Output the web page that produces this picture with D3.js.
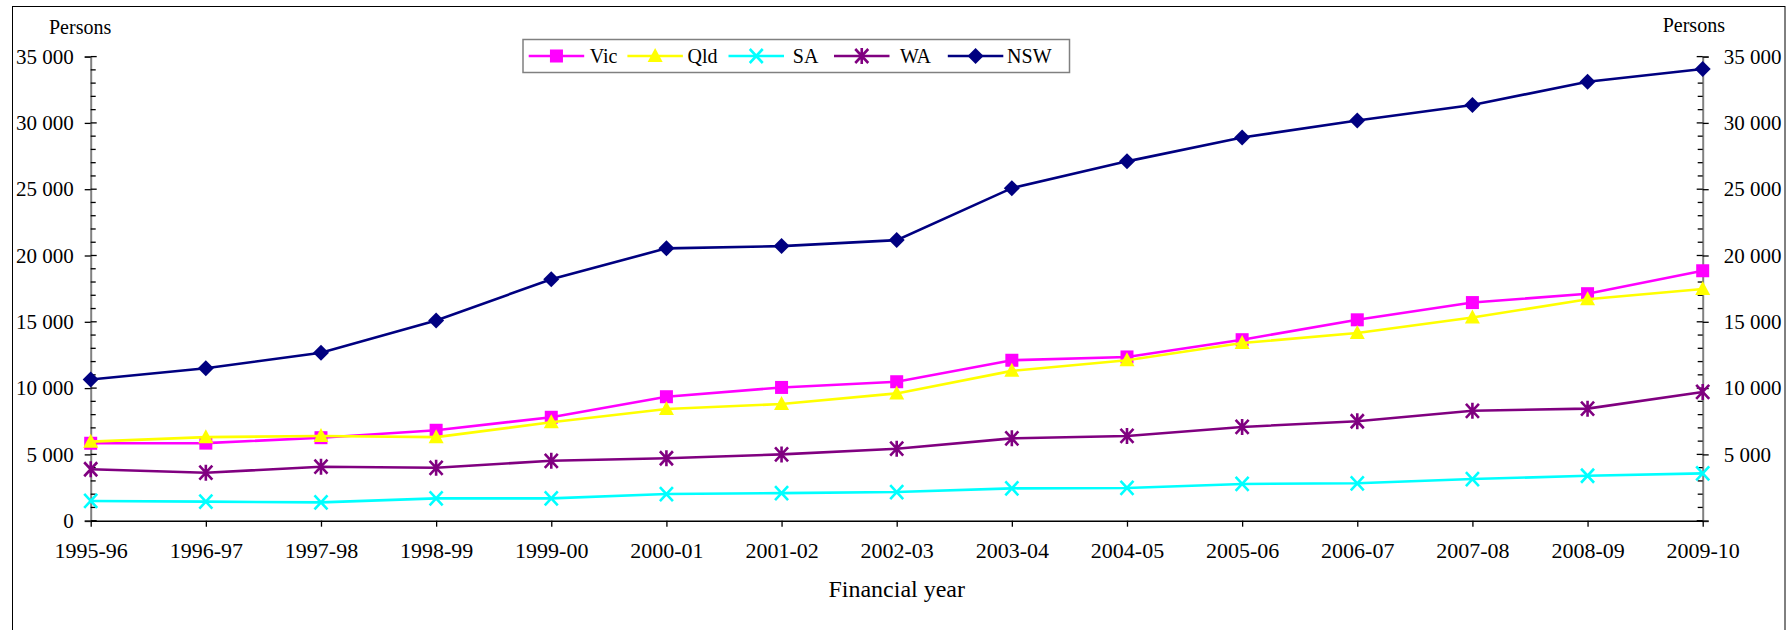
<!DOCTYPE html>
<html><head><meta charset="utf-8">
<script src="https://cdn.jsdelivr.net/npm/d3@7"></script>
<style>body{margin:0;background:#fff;} svg{display:block;}</style>
</head><body>
<svg id="c" width="1789" height="630"></svg>
<script>
const categories = ["1995-96","1996-97","1997-98","1998-99","1999-00","2000-01","2001-02","2002-03","2003-04","2004-05","2005-06","2006-07","2007-08","2008-09","2009-10"];
const vic = [5840,5850,6260,6820,7800,9350,10050,10480,12100,12350,13650,15150,16450,17120,18850];
const qld = [5960,6300,6390,6300,7420,8420,8800,9600,11300,12100,13400,14150,15320,16700,17470];
const sa  = [1490,1440,1380,1680,1680,2010,2080,2160,2440,2470,2770,2820,3140,3390,3570];
const wa  = [3880,3620,4070,3990,4520,4710,5000,5430,6210,6390,7070,7500,8290,8450,9710];
const nsw = [10650,11500,12660,15100,18210,20540,20710,21160,25080,27100,28900,30180,31350,33100,34070];
const seriesNames = ["Vic","Qld","SA","WA","NSW"];
const seriesColors = ["#FF00FF","#FFFF00","#00FFFF","#800080","#000080"];
const seriesMarkers = ["square","triangle","x","asterisk","diamond"];
const seriesValues = [vic,qld,sa,wa,nsw];
const yMajorTicks = [0,5000,10000,15000,20000,25000,30000,35000];
const yLabelFmt = v => v===0 ? "0" : d3.format(",")(v).replace(/,/g," ");
const FONT = '"Liberation Serif", "Times New Roman", serif';

const svg = d3.select("#c");
const x0 = 90.7, x1 = 1702.7, yb = 520.7, yt = 56.6;
const x = d3.scalePoint().domain(categories).range([x0,x1]).padding(0);
const y = d3.scaleLinear().domain([0,35000]).range([yb,yt]);

svg.append("rect").attr("x",12.5).attr("y",6.5).attr("width",1772.5).attr("height",640)
  .attr("fill","none").attr("stroke","#000").attr("stroke-width",1);

const minor = d3.range(0,35001,1000).filter(v=>v%5000!==0);

const gl = svg.append("g").attr("transform",`translate(${x0},0)`)
  .call(d3.axisLeft(y).tickValues(yMajorTicks).tickSize(6).tickPadding(11).tickFormat(yLabelFmt));
gl.select(".domain").attr("stroke","#808080").attr("stroke-width",2);
gl.selectAll(".tick line").attr("stroke","#000").attr("stroke-width",1.3);
gl.selectAll(".tick text").style("font-family",FONT).style("font-size","21px").attr("fill","#000");
gl.selectAll(".inmaj").data(yMajorTicks).enter().append("line")
  .attr("x1",0).attr("x2",6).attr("y1",d=>y(d)).attr("y2",d=>y(d)).attr("stroke","#000").attr("stroke-width",1.3);
gl.selectAll(".inmin").data(minor).enter().append("line")
  .attr("x1",0).attr("x2",5).attr("y1",d=>y(d)).attr("y2",d=>y(d)).attr("stroke","#000").attr("stroke-width",1.3);

const gr = svg.append("g").attr("transform",`translate(${x1},0)`)
  .call(d3.axisRight(y).tickValues(yMajorTicks).tickSize(6).tickPadding(15).tickFormat(v=>v===0?"":yLabelFmt(v)));
gr.select(".domain").attr("stroke","#808080").attr("stroke-width",2);
gr.selectAll(".tick line").attr("stroke","#000").attr("stroke-width",1.3);
gr.selectAll(".tick text").style("font-family",FONT).style("font-size","21px").attr("fill","#000");
gr.selectAll(".inmaj").data(yMajorTicks).enter().append("line")
  .attr("x1",0).attr("x2",-6).attr("y1",d=>y(d)).attr("y2",d=>y(d)).attr("stroke","#000").attr("stroke-width",1.3);
gr.selectAll(".inmin").data(minor).enter().append("line")
  .attr("x1",0).attr("x2",-5).attr("y1",d=>y(d)).attr("y2",d=>y(d)).attr("stroke","#000").attr("stroke-width",1.3);

const gx = svg.append("g").attr("transform",`translate(0,${yb})`)
  .call(d3.axisBottom(x).tickSize(6).tickSizeOuter(0).tickPadding(0));
gx.select(".domain").attr("stroke","#000").attr("stroke-width",1.5);
gx.selectAll(".tick line").attr("stroke","#000").attr("stroke-width",1.3);
gx.selectAll(".tick text").style("font-family",FONT).style("font-size","22px").attr("fill","#000")
  .attr("dy",null).attr("y",37.5);

function title(tx,ty,size,str,anchor){
  return svg.append("text").attr("x",tx).attr("y",ty).style("font-family",FONT).style("font-size",size+"px")
    .attr("text-anchor",anchor||"start").attr("fill","#000").text(str);
}
title(49,34,20,"Persons");
title(1662.7,32,20,"Persons");
title((x0+x1)/2,597,24,"Financial year","middle");

function marker(g, type, color, cx, cy){
  if(type==="square"){
    g.append("rect").attr("x",cx-6.5).attr("y",cy-6.5).attr("width",13).attr("height",13).attr("fill",color);
  } else if(type==="triangle"){
    g.append("path").attr("d",`M${cx},${cy-8}L${cx+7.5},${cy+6}L${cx-7.5},${cy+6}Z`).attr("fill",color);
  } else if(type==="diamond"){
    g.append("path").attr("d",`M${cx},${cy-8}L${cx+8},${cy}L${cx},${cy+8}L${cx-8},${cy}Z`).attr("fill",color);
  } else if(type==="x"){
    g.append("path").attr("d",`M${cx-6.5},${cy-7}L${cx+6.5},${cy+7}M${cx+6.5},${cy-7}L${cx-6.5},${cy+7}`).attr("stroke",color).attr("stroke-width",2.6);
  } else if(type==="asterisk"){
    g.append("path").attr("d",`M${cx-6.5},${cy-7}L${cx+6.5},${cy+7}M${cx+6.5},${cy-7}L${cx-6.5},${cy+7}M${cx},${cy-8}L${cx},${cy+8}`).attr("stroke",color).attr("stroke-width",2.6);
  }
}

const line = d3.line().x((d,i)=>x(categories[i])).y(d=>y(d));
seriesValues.forEach((vals,si)=>{
  const g = svg.append("g");
  g.append("path").datum(vals).attr("d",line).attr("fill","none")
    .attr("stroke",seriesColors[si]).attr("stroke-width",2.6);
  vals.forEach((v,i)=>marker(g, seriesMarkers[si], seriesColors[si], x(categories[i]), y(v)));
});

const lg = svg.append("g");
lg.append("rect").attr("x",523).attr("y",39.5).attr("width",546.5).attr("height",33)
  .attr("fill","#fff").attr("stroke","#808080").attr("stroke-width",1.5);
const legendX = [528.7,627.4,728.5,834,947.8];
const legendTextGap = [5.5,4.6,8.8,10.4,3.8];
const ly = 56;
seriesNames.forEach((n,i)=>{
  const lx = legendX[i];
  lg.append("line").attr("x1",lx).attr("x2",lx+55.5).attr("y1",ly).attr("y2",ly)
    .attr("stroke",seriesColors[i]).attr("stroke-width",2.6);
  marker(lg, seriesMarkers[i], seriesColors[i], lx+27.75, ly);
  lg.append("text").attr("x",lx+55.5+legendTextGap[i]).attr("y",ly+7)
    .style("font-family",FONT).style("font-size","20px").attr("fill","#000").text(n);
});
</script>
</body></html>
